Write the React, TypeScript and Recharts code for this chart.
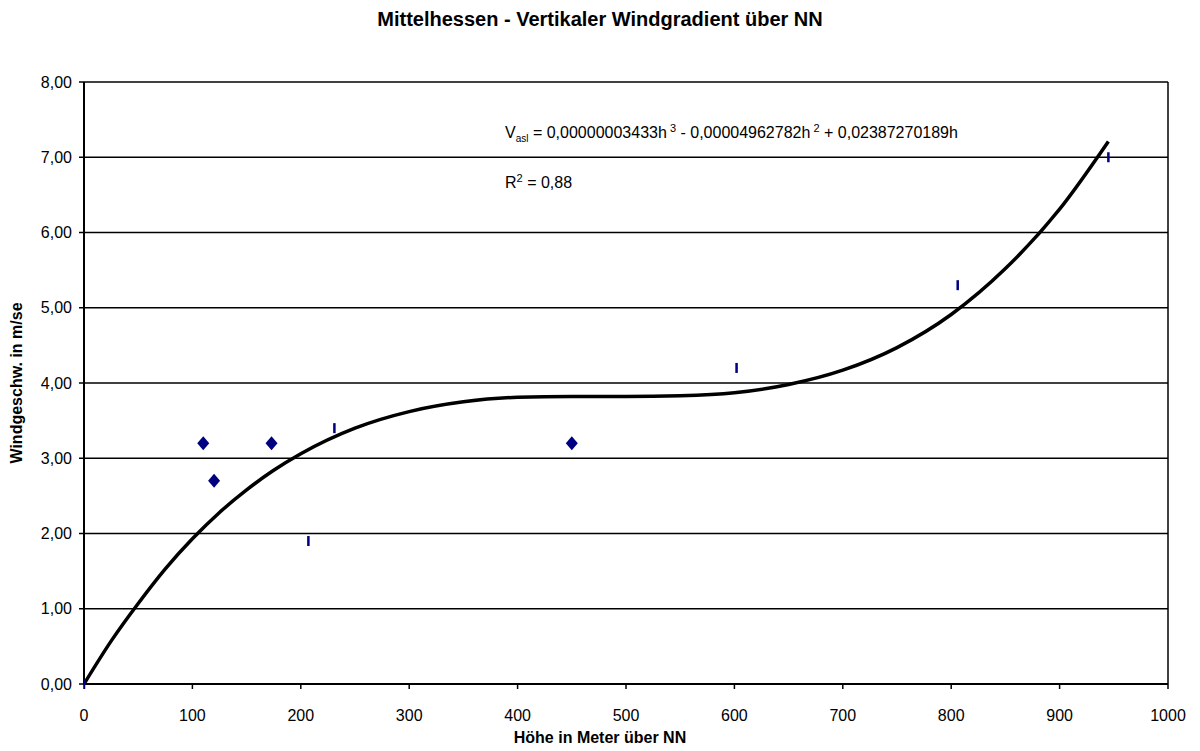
import React from 'react';
import {
  ComposedChart,
  Line,
  Scatter,
  XAxis,
  YAxis,
  CartesianGrid,
  ReferenceLine,
} from 'recharts';

// measured stations, two marker styles
const diamondH = [110, 120, 173, 450];
const diamondV = [3.2, 2.7, 3.2, 3.2];
const dashH = [0, 207, 231, 602, 806, 945];
const dashV = [0, 1.9, 3.4, 4.2, 5.3, 7.0];

// polynomial trend line
const trendH = [0, 25, 50, 75, 100, 125, 150, 175, 200, 250, 300, 350, 400, 450, 500, 550, 600, 650, 700, 750, 800, 850, 900, 945];
const trendV = [0, 0.57, 1.07, 1.53, 1.93, 2.28, 2.58, 2.84, 3.06, 3.4, 3.62, 3.75, 3.81, 3.82, 3.82, 3.83, 3.87, 3.98, 4.17, 4.47, 4.91, 5.52, 6.31, 7.21];

const xTicks = [0, 100, 200, 300, 400, 500, 600, 700, 800, 900, 1000];
const yTicks = [0, 1, 2, 3, 4, 5, 6, 7, 8];

const FONT = '"Liberation Sans", Arial, sans-serif';
const NAVY = '#000080';

const diamonds = diamondH.map((h, i) => ({ h, v: diamondV[i] }));
const dashes = dashH.map((h, i) => ({ h, v: dashV[i] }));
const trend = trendH.map((h, i) => ({ h, v: trendV[i] }));

const Diamond = (props: any) => {
  const { cx, cy } = props;
  return <path d={`M${cx},${cy - 7} L${cx + 6},${cy} L${cx},${cy + 7} L${cx - 6},${cy} Z`} fill={NAVY} />;
};

const Dash = (props: any) => {
  const { cx, cy } = props;
  return <rect x={cx - 1.25} y={cy - 5} width={2.5} height={10} fill={NAVY} />;
};

const fmt = (v: number) => v.toFixed(2).replace('.', ',');

const supStyle = { fontSize: 11, verticalAlign: '0.55em' } as const;

export default function App() {
  return (
    <div style={{ position: 'absolute', left: 0, top: 0, width: 1200, height: 751, background: '#fff', fontFamily: FONT }}>
      <div style={{ position: 'absolute', top: 8, left: 0, width: 1200, textAlign: 'center', fontWeight: 'bold', fontSize: 20 }}>
        Mittelhessen - Vertikaler Windgradient über NN
      </div>
      <ComposedChart width={1200} height={751} margin={{ top: 82, right: 32, bottom: 27, left: 14 }}>
        <CartesianGrid vertical={false} stroke="#000" strokeWidth={1.5} />
        <XAxis
          type="number"
          dataKey="h"
          domain={[0, 1000]}
          ticks={xTicks}
          height={40}
          axisLine={{ stroke: '#000', strokeWidth: 2 }}
          tickLine={{ stroke: '#000', strokeWidth: 1.5 }}
          tickSize={5}
          tick={{ fill: '#000', fontSize: 16, fontFamily: FONT, dy: 19 }}
          allowDataOverflow
        />
        <YAxis
          type="number"
          dataKey="v"
          domain={[0, 8]}
          ticks={yTicks}
          width={70}
          tickFormatter={fmt}
          axisLine={{ stroke: '#000', strokeWidth: 2 }}
          tickLine={{ stroke: '#000', strokeWidth: 1.5 }}
          tickSize={5}
          tick={{ fill: '#000', fontSize: 16, fontFamily: FONT, dx: -5 }}
        />
        <ReferenceLine x={1000} stroke="#000" strokeWidth={1.5} />
        <Line
          data={trend}
          dataKey="v"
          type="monotone"
          stroke="#000"
          strokeWidth={3.5}
          dot={false}
          activeDot={false}
          isAnimationActive={false}
        />
        <Scatter data={dashes} dataKey="v" shape={<Dash />} isAnimationActive={false} />
        <Scatter data={diamonds} dataKey="v" shape={<Diamond />} isAnimationActive={false} />
      </ComposedChart>
      <div style={{ position: 'absolute', left: 505, top: 122, fontSize: 16, whiteSpace: 'nowrap' }}>
        V<sub style={{ fontSize: 10 }}>asl</sub> = 0,00000003433h<sup style={supStyle}> 3</sup> - 0,00004962782h
        <sup style={supStyle}> 2</sup> + 0,02387270189h
      </div>
      <div style={{ position: 'absolute', left: 505, top: 172, fontSize: 16, whiteSpace: 'nowrap' }}>
        R<sup style={supStyle}>2</sup> = 0,88
      </div>
      <div style={{ position: 'absolute', left: 0, top: 729, width: 1200, textAlign: 'center', fontWeight: 'bold', fontSize: 16 }}>
        Höhe in Meter über NN
      </div>
      <div
        style={{
          position: 'absolute',
          left: 17,
          top: 383,
          transform: 'translate(-50%, -50%) rotate(-90deg)',
          fontWeight: 'bold',
          fontSize: 16,
          whiteSpace: 'nowrap',
        }}
      >
        Windgeschw. in m/se
      </div>
    </div>
  );
}
